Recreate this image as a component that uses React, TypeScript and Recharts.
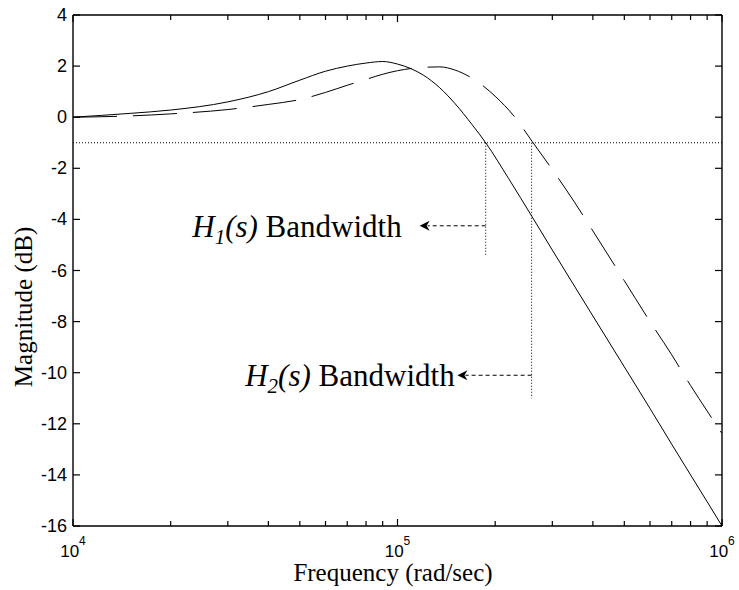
import { LineChart, Line, XAxis, YAxis, ReferenceLine, ReferenceDot } from 'recharts'

// H1(s): solid curve
const h1Freq = [1e4, 1.5e4, 2e4, 3e4, 4e4, 5e4, 6e4, 7e4, 8e4, 9e4, 1e5, 1.1e5, 1.2e5, 1.35e5, 1.5e5, 1.7e5, 1.87e5, 2.2e5, 2.6e5, 3e5, 4e5, 5e5, 6e5, 7e5, 8e5, 9e5, 1e6]
const h1Db = [0.0, 0.15, 0.28, 0.6, 1.0, 1.45, 1.8, 2.0, 2.12, 2.18, 2.08, 1.9, 1.65, 1.15, 0.55, -0.3, -1.0, -2.4, -3.9, -5.2, -7.78, -9.77, -11.4, -12.8, -14.0, -15.05, -16.0]

// H2(s): dashed curve
const h2Freq = [1e4, 1.5e4, 2e4, 3e4, 4e4, 5e4, 6e4, 7e4, 8e4, 9e4, 1e5, 1.2e5, 1.35e5, 1.5e5, 1.7e5, 2e5, 2.3e5, 2.6e5, 3e5, 3.5e5, 4e5, 5e5, 6e5, 7e5, 8e5, 9e5, 1e6]
const h2Db = [0.0, 0.05, 0.13, 0.3, 0.5, 0.69, 0.97, 1.25, 1.48, 1.68, 1.82, 1.95, 1.97, 1.85, 1.52, 0.82, 0.0, -0.95, -2.05, -3.3, -4.45, -6.4, -8.0, -9.3, -10.5, -11.5, -12.38]

// bandwidth annotations
const bwSub = ['1', '2']
const bwLevel = -1
const bwFreq = [1.87e5, 2.59e5]
const bwLineEnd = [-5.4, -11.0]
const arrowY = [-4.25, -10.1]
const arrowTip = [1.17e5, 1.53e5]
const labelEnd = [1.03e5, 1.5e5]

const xTicks = [1e4, 2e4, 3e4, 4e4, 5e4, 6e4, 7e4, 8e4, 9e4, 1e5, 2e5, 3e5, 4e5, 5e5, 6e5, 7e5, 8e5, 9e5, 1e6]
const yTicks = [-16, -14, -12, -10, -8, -6, -4, -2, 0, 2, 4]

const h1Data = h1Freq.map((f, i) => ({ f, db: h1Db[i] }))
const h2Data = h2Freq.map((f, i) => ({ f, db: h2Db[i] }))

const SANS = '"Liberation Sans", Arial, Helvetica, sans-serif'
const SERIF = '"Liberation Serif", "Times New Roman", serif'
const FRAME = { stroke: '#000', strokeWidth: 1.4 }

const isMajor = (v: number) => Math.abs(Math.log10(v) - Math.round(Math.log10(v))) < 1e-9

function BottomTick({ x, y, payload }: any) {
  const v = payload.value
  const major = isMajor(v)
  return (
    <g>
      <line x1={x} x2={x} y1={y} y2={y - (major ? 7 : 5)} stroke="#000" strokeWidth={1.2} />
      {major && (
        <text x={x} y={y + 31} textAnchor="middle" fontFamily={SANS} fontSize={17} fill="#000">
          10<tspan dy={-12} fontSize={12}>{Math.round(Math.log10(v))}</tspan>
        </text>
      )}
    </g>
  )
}

function TopTick({ x, y, payload }: any) {
  const major = isMajor(payload.value)
  return <line x1={x} x2={x} y1={y} y2={y + (major ? 7 : 5)} stroke="#000" strokeWidth={1.2} />
}

function LeftTick({ x, y, payload }: any) {
  return (
    <g>
      <line x1={x} x2={x + 7} y1={y} y2={y} stroke="#000" strokeWidth={1.2} />
      <text x={x - 6} y={y + 6} textAnchor="end" fontFamily={SANS} fontSize={18} fill="#000">
        {String(payload.value)}
      </text>
    </g>
  )
}

function RightTick({ x, y }: any) {
  return <line x1={x} x2={x - 7} y1={y} y2={y} stroke="#000" strokeWidth={1.2} />
}

function ArrowShape({ x1, y1, x2 }: any) {
  return (
    <g>
      <line x1={x1} y1={y1} x2={x2 + 8} y2={y1} stroke="#000" strokeDasharray="4 3" />
      <path d={`M${x2},${y1} L${x2 + 10},${y1 - 5} L${x2 + 7},${y1} L${x2 + 10},${y1 + 5} Z`} fill="#000" />
    </g>
  )
}

function bwLabel(sub: string) {
  return ({ cx, cy }: any) => (
    <text x={cx} y={cy + 11} textAnchor="end" fontFamily={SERIF} fontSize={31} fill="#000">
      <tspan fontStyle="italic">H</tspan>
      <tspan fontStyle="italic" fontSize={21} dy={7}>{sub}</tspan>
      <tspan fontStyle="italic" dy={-7}>(s)</tspan>
      <tspan> Bandwidth</tspan>
    </text>
  )
}

export default function App() {
  return (
    <div style={{ position: 'absolute', left: 0, top: 0, width: 739, height: 590, background: '#fff' }}>
      <LineChart width={739} height={590} margin={{ top: 14, right: 16, bottom: 24, left: 12 }}>
        <XAxis dataKey="f" type="number" scale="log" domain={[1e4, 1e6]} allowDataOverflow ticks={xTicks} interval={0}
          height={40} tickSize={0} tickMargin={0} tickLine={false} axisLine={FRAME} tick={(p: any) => <BottomTick {...p} />} />
        <XAxis xAxisId="top" orientation="top" dataKey="f" type="number" scale="log" domain={[1e4, 1e6]} allowDataOverflow ticks={xTicks} interval={0}
          height={1} tickSize={0} tickMargin={0} tickLine={false} axisLine={FRAME} tick={(p: any) => <TopTick {...p} />} />
        <YAxis type="number" domain={[-16, 4]} allowDataOverflow ticks={yTicks} interval={0}
          width={61} tickSize={0} tickMargin={0} tickLine={false} axisLine={FRAME} tick={(p: any) => <LeftTick {...p} />} />
        <YAxis yAxisId="right" orientation="right" type="number" domain={[-16, 4]} allowDataOverflow ticks={yTicks} interval={0}
          width={1} tickSize={0} tickMargin={0} tickLine={false} axisLine={FRAME} tick={(p: any) => <RightTick {...p} />} />

        <ReferenceLine y={bwLevel} stroke="#000" strokeWidth={1} strokeDasharray="1 2" />
        {bwFreq.map((f, i) => (
          <ReferenceLine key={'v' + i} segment={[{ x: f, y: bwLevel }, { x: f, y: bwLineEnd[i] }]} stroke="#000" strokeDasharray="1 2" />
        ))}
        {bwFreq.map((f, i) => (
          <ReferenceLine key={'a' + i} segment={[{ x: f, y: arrowY[i] }, { x: arrowTip[i], y: arrowY[i] }]} shape={(p: any) => <ArrowShape {...p} />} />
        ))}
        {labelEnd.map((f, i) => (
          <ReferenceDot key={'t' + i} x={f} y={arrowY[i]} r={0} ifOverflow="visible" shape={bwLabel(bwSub[i])} />
        ))}

        <Line data={h1Data} dataKey="db" type="monotone" stroke="#000" strokeWidth={1} dot={false} isAnimationActive={false} />
        <Line data={h2Data} dataKey="db" type="monotone" stroke="#000" strokeWidth={1} strokeDasharray="44 16" dot={false} isAnimationActive={false} />
      </LineChart>
      <svg width={739} height={590} style={{ position: 'absolute', left: 0, top: 0, pointerEvents: 'none' }}>
        <text x={393} y={581} textAnchor="middle" fontFamily={SERIF} fontSize={25} fill="#000">Frequency (rad/sec)</text>
        <text transform="translate(32,307) rotate(-90)" textAnchor="middle" fontFamily={SERIF} fontSize={25} fill="#000">Magnitude (dB)</text>
      </svg>
    </div>
  )
}
